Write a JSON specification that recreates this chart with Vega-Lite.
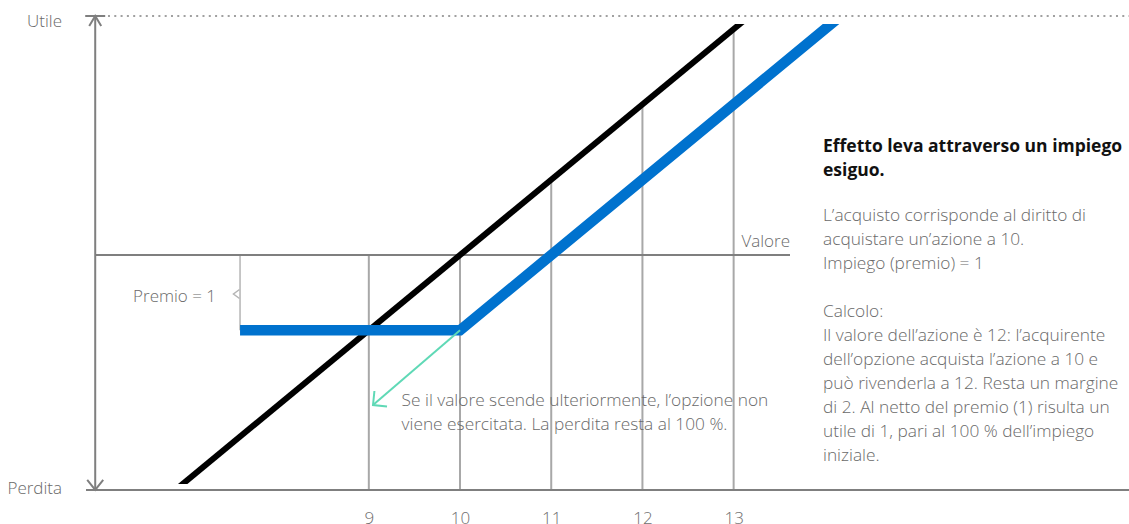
{
  "$schema": "https://vega.github.io/schema/vega-lite/v6.json",
  "width": 1129,
  "height": 460,
  "autosize": {"type": "none"},
  "padding": {"top": 24, "left": 0, "right": 0, "bottom": 40},
  "background": "white",
  "config": {"view": {"stroke": null}, "font": "Open Sans"},
  "datasets": {
    "grid": [
      {"x": 9, "y": 0, "y2": -3.12},
      {"x": 10, "y": 0, "y2": -3.12},
      {"x": 11, "y": 1, "y2": -3.12},
      {"x": 12, "y": 2, "y2": -3.12},
      {"x": 13, "y": 3, "y2": -3.12}
    ],
    "axes": [
      {"x": 6, "y": -3.12, "x2": 6, "y2": 3.174},
      {"x": 5.899, "y": -3.12, "x2": 17.4, "y2": -3.12},
      {"x": 6, "y": 0, "x2": 13.618, "y2": 0}
    ],
    "dotted": [{"x": 6.14, "y": 3.174, "x2": 17.4, "y2": 3.174}],
    "stock": [{"x": 6.5, "y": -3.5}, {"x": 13.5, "y": 3.5}],
    "option": [{"x": 7.588, "y": -1}, {"x": 10, "y": -1}, {"x": 14.5, "y": 3.5}],
    "premio": [{"x": 7.588, "y": 0, "y2": -1}],
    "topArrow": [{"x": 6, "y": 3.174}],
    "bottomArrow": [{"x": 6, "y": -3.12}],
    "brace": [{"x": 7.516, "y": -0.518}],
    "green": [{"x": 10, "y": -1}, {"x": 9.046, "y": -1.992}],
    "greenHead": [{"x": 9.046, "y": -1.992}],
    "rlabels": [
      {"x": 5.636, "y": 3.028, "text": "Utile"},
      {"x": 5.636, "y": -3.174, "text": "Perdita"},
      {"x": 7.325, "y": -0.624, "text": "Premio = 1"},
      {"x": 13.618, "y": 0.106, "text": "Valore"}
    ],
    "llabels": [
      {"x": 9.359, "y": -2.0, "text": "Se il valore scende ulteriormente, l’opzione non\nviene esercitata. La perdita resta al 100 %."},
      {"x": 13.98, "y": 0.452, "text": "L’acquisto corrisponde al diritto di\nacquistare un’azione a 10.\nImpiego (premio) = 1"},
      {"x": 13.98, "y": -0.823, "text": "Calcolo:\nIl valore dell’azione è 12: l’acquirente\ndell’opzione acquista l’azione a 10 e\npuò rivenderla a 12. Resta un margine\ndi 2. Al netto del premio (1) risulta un\nutile di 1, pari al 100 % dell’impiego\niniziale."}
    ],
    "heading": [
      {"x": 13.98, "y": 1.368, "text": "Effetto leva attraverso un impiego\nesiguo."}
    ]
  },
  "encoding": {
    "x": {
      "field": "x",
      "type": "quantitative",
      "scale": {"domain": [4.956, 17.335], "nice": false, "zero": false},
      "axis": {
        "values": [9, 10, 11, 12, 13],
        "domain": false,
        "ticks": false,
        "grid": false,
        "title": null,
        "labelFontSize": 17,
        "labelFontWeight": 300,
        "labelColor": "#6e6e6e",
        "labelPadding": 26,
        "labelFlush": false,
        "labelFont": "Open Sans"
      }
    },
    "y": {
      "field": "y",
      "type": "quantitative",
      "scale": {"domain": [-3.041, 3.068], "nice": false, "zero": false},
      "axis": null
    }
  },
  "layer": [
    {
      "data": {"name": "grid"},
      "mark": {"type": "rule", "stroke": "#a8a8a8", "strokeWidth": 2},
      "encoding": {"y2": {"field": "y2"}}
    },
    {
      "data": {"name": "premio"},
      "mark": {"type": "rule", "stroke": "#b5b5b5", "strokeWidth": 1.5},
      "encoding": {"y2": {"field": "y2"}}
    },
    {
      "data": {"name": "axes"},
      "mark": {"type": "rule", "stroke": "#7f7f7f", "strokeWidth": 2},
      "encoding": {"x2": {"field": "x2"}, "y2": {"field": "y2"}}
    },
    {
      "data": {"name": "dotted"},
      "mark": {"type": "rule", "stroke": "#a0a0a0", "strokeWidth": 2, "strokeDash": [2, 4.3]},
      "encoding": {"x2": {"field": "x2"}, "y2": {"field": "y2"}}
    },
    {
      "data": {"name": "topArrow"},
      "mark": {"type": "point", "shape": "M -1 0 L 1 0 M -0.6 1 L 0 0 L 0.6 1", "filled": false, "stroke": "#7f7f7f", "strokeWidth": 2, "size": 400, "opacity": 1}
    },
    {
      "data": {"name": "bottomArrow"},
      "mark": {"type": "point", "shape": "M -0.8 -1 L 0 0 L 0.8 -1", "filled": false, "stroke": "#7f7f7f", "strokeWidth": 2, "size": 400, "opacity": 1}
    },
    {
      "data": {"name": "brace"},
      "mark": {"type": "point", "shape": "M 1 -0.75 L 0 0 L 1 0.75", "filled": false, "stroke": "#b5b5b5", "strokeWidth": 1.5, "size": 144, "opacity": 1}
    },
    {
      "data": {"name": "stock"},
      "mark": {"type": "line", "stroke": "#000000", "strokeWidth": 6, "clip": true}
    },
    {
      "data": {"name": "option"},
      "mark": {"type": "line", "stroke": "#0072ce", "strokeWidth": 10.5, "clip": true, "strokeJoin": "miter"}
    },
    {
      "data": {"name": "green"},
      "mark": {"type": "line", "stroke": "#5fd9b6", "strokeWidth": 2}
    },
    {
      "data": {"name": "greenHead"},
      "mark": {"type": "point", "shape": "M 0.1 -1 L 0 0 L 1 0.1", "filled": false, "stroke": "#5fd9b6", "strokeWidth": 2, "size": 784, "opacity": 1}
    },
    {
      "data": {"name": "rlabels"},
      "mark": {"type": "text", "align": "right", "baseline": "alphabetic", "fontSize": 17, "fontWeight": 300, "color": "#6a6a6a"},
      "encoding": {"text": {"field": "text"}}
    },
    {
      "data": {"name": "llabels"},
      "mark": {"type": "text", "align": "left", "baseline": "alphabetic", "fontSize": 17.3, "fontWeight": 300, "color": "#6a6a6a", "lineBreak": "\n", "lineHeight": 24},
      "encoding": {"text": {"field": "text"}}
    },
    {
      "data": {"name": "heading"},
      "mark": {"type": "text", "align": "left", "baseline": "alphabetic", "fontSize": 17.5, "fontWeight": "bold", "color": "#111111", "lineBreak": "\n", "lineHeight": 24},
      "encoding": {"text": {"field": "text"}}
    }
  ]
}
